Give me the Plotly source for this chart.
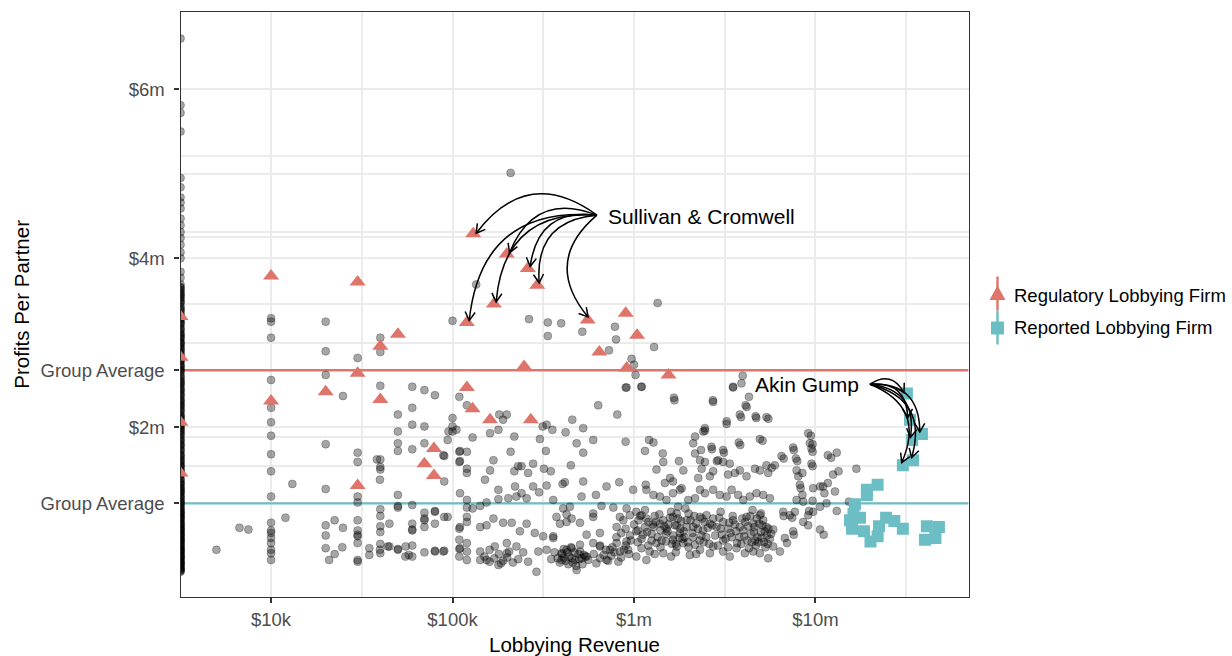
import math
import plotly.graph_objects as go

W, H = 1232, 656

# ---------------- scales / labels ----------------
x_limits = (3170, 69_700_000)          # lobbying revenue, $
y_limits = (-0.008, 6.91)              # profits per partner, $m
x_ticks = [1e4, 1e5, 1e6, 1e7]
x_tick_labels = ["$10k", "$100k", "$1m", "$10m"]
x_minor = [10**4.5, 10**5.5, 10**6.5, 10**7.5]
regulatory_avg_m = 2.675
reported_avg_m = 1.10
y_ticks = [reported_avg_m, 2, regulatory_avg_m, 4, 6]
y_tick_labels = ["Group Average", "$2m", "Group Average", "$4m", "$6m"]
y_minor = [1.545, 1.89, 3.0, 3.46, 4.25, 4.31, 5.0, 5.21]

# ---------------- data ----------------
# firms without lobbying revenue (shown at the axis floor), profits per partner $m
no_revenue_profit_m = [6.60, 5.81, 5.72, 5.50, 4.95, 4.84, 4.72, 4.66, 4.59, 4.47, 4.39, 4.31,
                       4.24, 4.16, 4.07, 4.00, 3.84, 3.77, 3.69, 3.66, 3.63, 3.61, 3.59, 3.56,
                       3.54, 3.52, 3.50, 3.47, 3.43, 3.41, 3.38, 3.35, 3.33, 3.30, 3.28, 3.26,
                       3.23, 3.21, 3.18, 3.15, 3.12, 3.10, 3.09, 3.06, 3.04, 3.01, 3.00, 2.97,
                       2.95, 2.92, 2.90, 2.86, 2.84, 2.82, 2.79, 2.78, 2.75, 2.72, 2.70, 2.67,
                       2.65, 2.62, 2.60, 2.56, 2.54, 2.53, 2.50, 2.47, 2.44, 2.42, 2.40, 2.37,
                       2.34, 2.31, 2.29, 2.26, 2.24, 2.22, 2.19, 2.16, 2.13, 2.11, 2.10, 2.07,
                       2.04, 2.01, 1.99, 1.96, 1.94, 1.91, 1.88, 1.86, 1.83, 1.80, 1.78, 1.75,
                       1.72, 1.69, 1.66, 1.64, 1.62, 1.59, 1.57, 1.55, 1.53, 1.50, 1.48, 1.45,
                       1.43, 1.39, 1.36, 1.34, 1.32, 1.29, 1.27, 1.24, 1.22, 1.19, 1.17, 1.15,
                       1.12, 1.09, 1.06, 1.04, 1.01, 0.99, 0.98, 0.95, 0.93, 0.90, 0.87, 0.84,
                       0.82, 0.81, 0.78, 0.77, 0.74, 0.71, 0.69, 0.68, 0.65, 0.64, 0.61, 0.58,
                       0.56, 0.55, 0.52, 0.50, 0.48, 0.47, 0.44, 0.42, 0.40, 0.38, 0.36, 0.33,
                       0.31, 0.30,
                       3.65, 3.57, 3.48, 3.39, 3.31, 3.24, 3.16, 3.07, 2.99, 2.93, 2.88, 2.80,
                       2.73, 2.68, 2.58, 2.51, 2.45, 2.38, 2.32, 2.27, 2.20, 2.14, 2.08, 2.02,
                       1.97, 1.92, 1.84, 1.79, 1.73, 1.67, 1.60, 1.54, 1.49, 1.44, 1.38, 1.33,
                       1.28, 1.23, 1.18, 1.13, 1.08, 1.03, 0.97, 0.94, 0.89, 0.85, 0.80, 0.75,
                       0.72, 0.66, 0.62, 0.57, 0.53, 0.49, 0.45, 0.41, 0.37, 0.34, 0.32, 0.29,
                       1.25, 1.11, 1.00, 0.92, 0.86, 0.79, 0.73, 0.67, 0.60, 0.54, 0.46, 0.39]
no_revenue_regulatory_m = [3.31, 2.83, 2.06, 1.46]

# other firms: (lobbying revenue $k, profits per partner $m)
other_firms = [
    (5.0, 0.55), (6.7, 0.81), (7.5, 0.79), (12, 0.93), (13.1, 1.33),
    (10, 3.29), (10, 3.25), (10, 3.06), (10, 2.56), (10, 2.23), (10, 2.06), (10, 1.90), (10, 1.68),
    (10, 1.48), (10, 1.18), (10, 0.87), (10, 0.78), (10, 0.75), (10, 0.69), (10, 0.63), (10, 0.55),
    (10, 0.51), (10, 0.43),
    (20, 3.25), (20, 2.90), (20, 2.62), (20, 1.80), (20, 1.27), (20, 0.84), (20, 0.72), (20, 0.57),
    (20.9, 0.43), (22.4, 0.90), (22.4, 0.50), (24.9, 2.37), (24.9, 0.81), (24.7, 0.58),
    (30, 2.82), (30, 1.70), (30, 1.59), (30, 1.18), (30, 1.11), (30, 0.90), (30, 0.78), (30, 0.73),
    (30, 0.71), (30, 0.63), (30, 0.43), (30, 0.41),
    (40, 3.06), (40, 2.89), (40, 2.49), (40, 1.62), (40, 1.53), (40, 1.50), (40, 1.03), (40, 0.95),
    (40, 0.83), (40, 0.76), (40, 0.62), (40, 0.51), (38.3, 1.62), (34.8, 0.57), (34.8, 0.49),
    (44.9, 0.86), (44.9, 0.59), (39.8, 1.38), (39.8, 0.55), (44, 0.59),
    (50, 2.15), (50, 1.95), (50, 1.81), (50, 1.72), (50, 1.20), (50, 1.05), (50, 0.56), (50, 1.07), (50, 0.55),
    (60, 2.48), (60, 2.23), (60, 2.03), (60, 1.74), (60, 1.08), (60, 0.86), (60, 0.79), (60, 0.60),
    (60, 0.47), (55.2, 0.59), (57.4, 0.49), (55, 0.47), (60, 0.78),
    (70, 2.44), (70, 2.01), (70, 0.99), (70, 0.90), (70, 0.82), (70, 0.52), (70, 1.81), (70, 0.92),
    (80, 2.38), (80, 1.01), (80, 0.86), (80, 0.54), (80, 1.00), (80, 0.53),
    (90, 1.66), (90, 1.36), (90, 0.94), (90, 0.54), (94, 1.85), (94, 0.94), (89, 1.67), (89, 0.53),
    (100, 3.26), (100, 2.11), (100, 2.01), (100, 1.95), (95, 1.95), (105, 1.97),
    (109, 2.36), (109, 1.71), (109, 1.59), (109, 0.80), (109, 0.67), (109, 0.56), (109, 0.47),
    (110, 1.72), (110, 1.60), (110, 1.22), (110, 0.82), (110, 0.57),
    (120, 2.26), (120, 1.71), (120, 1.51), (120, 1.46), (120, 1.14), (120, 1.05), (120, 0.94),
    (120, 0.88), (120, 0.63), (120, 0.53), (120, 0.43),
    (129, 1.88), (129, 1.04), (142, 1.07), (142, 0.82), (142, 0.53), (142, 0.43), (151, 1.38),
    (154, 1.11), (154, 0.84), (154, 0.43), (161, 1.93), (161, 1.49), (168, 1.61), (168, 0.92),
    (171, 0.59), (179, 1.97), (179, 1.26), (179, 1.15), (179, 0.37), (181, 2.15), (190, 2.09),
    (190, 0.87), (199, 2.15), (199, 0.63), (199, 0.51), (203, 1.16), (209, 1.71), (212, 0.87),
    (219, 1.89), (219, 1.48), (221, 1.30), (225, 1.18), (225, 0.59), (230, 1.54), (235, 0.77),
    (240, 1.54), (240, 1.22), (256, 1.16), (256, 0.86), (261, 1.46), (261, 0.41), (278, 1.57),
    (278, 1.30), (284, 0.75), (290, 0.29), (297, 0.53), (300, 1.23), (303, 1.86), (314, 2.01),
    (316, 0.71), (319, 1.51), (327, 1.72), (330, 2.03), (330, 1.31), (330, 0.55), (348, 1.48),
    (355, 1.97), (359, 1.14), (359, 0.71), (359, 0.69), (374, 0.94), (391, 0.86), (399, 0.51),
    (399, 0.43), (404, 1.33), (407, 1.04), (416, 1.35), (420, 1.94), (425, 0.97), (425, 0.88),
    (425, 0.55), (443, 1.06), (449, 1.55), (453, 0.92), (453, 0.57), (457, 2.09), (483, 1.81),
    (483, 0.31), (504, 0.87), (504, 0.61), (514, 1.18), (525, 1.99), (525, 1.70), (525, 1.36),
    (548, 0.73), (548, 0.47), (596, 1.85), (596, 0.98), (596, 0.94), (596, 0.63), (617, 1.20),
    (635, 2.26), (649, 0.75), (649, 0.59), (662, 1.07), (706, 1.30), (706, 0.43), (737, 0.55),
    (769, 1.05), (802, 0.82), (802, 0.63), (809, 2.15), (829, 1.35), (836, 0.94), (836, 0.53),
    (873, 0.90), (899, 1.83), (910, 2.47), (910, 1.04), (910, 0.65), (929, 0.55), (949, 0.96),
    (990, 1.26), (1030, 1.00), (1030, 0.77), (1030, 0.47), (1080, 0.95), (1100, 2.48), (1100, 0.96),
    (1150, 1.72), (1160, 1.32), (1170, 1.26), (1170, 0.92), (1170, 0.43), (1210, 1.85), (1220, 0.53),
    (1280, 1.82), (1280, 1.20), (1280, 0.82), (1330, 1.50), (1330, 0.63), (1390, 1.18), (1390, 0.86),
    (1440, 1.69), (1450, 1.59), (1450, 0.51), (1480, 1.34), (1510, 1.14), (1510, 0.80), (1580, 1.40),
    (1640, 1.36), (1640, 1.22), (1640, 0.94), (1640, 0.67), (1670, 2.32), (1720, 0.84), (1720, 0.59),
    (1770, 1.60), (1790, 1.26), (1790, 0.75), (1830, 1.28), (1870, 1.49), (1870, 0.63), (1950, 0.90),
    (1990, 1.14), (2030, 0.49), (2120, 1.81), (2120, 0.82), (2170, 1.89), (2170, 1.69), (2170, 1.16),
    (2170, 0.61), (2260, 1.40), (2310, 1.61), (2310, 1.26), (2310, 0.94), (2310, 0.55), (2340, 1.73),
    (2360, 1.51), (2410, 1.95), (2460, 1.99), (2460, 1.59), (2460, 1.22), (2510, 0.96), (2620, 1.42),
    (2620, 0.86), (2620, 0.51), (2670, 1.77), (2730, 2.30), (2730, 1.48), (2730, 1.26), (2730, 0.92),
    (2730, 0.59), (2850, 0.82), (2910, 1.61), (2970, 1.20), (3100, 1.73), (3100, 1.59), (3100, 0.88),
    (3100, 0.53), (3240, 2.07), (3240, 1.18), (3300, 1.44), (3300, 0.80), (3370, 1.57), (3370, 0.47),
    (3450, 1.26), (3520, 2.48), (3520, 0.90), (3600, 1.46), (3670, 0.57), (3750, 1.20), (3780, 1.82),
    (3830, 2.15), (3830, 1.49), (3830, 0.82), (3910, 2.52), (4000, 1.14), (4080, 0.51), (4120, 2.26),
    (4170, 1.42), (4170, 0.94), (4350, 1.18), (4540, 0.86), (4540, 0.53), (4640, 1.51), (4680, 2.13),
    (4730, 1.22), (4940, 1.86), (4940, 1.49), (4940, 0.96), (4940, 0.51), (5150, 1.20), (5150, 0.90),
    (5370, 2.12), (5370, 1.55), (5370, 0.82), (5490, 1.46), (5490, 0.45), (5610, 1.16), (5850, 0.79),
    (5850, 0.59), (5970, 1.55), (6370, 0.53), (6500, 1.66), (6640, 1.00), (6780, 0.69), (7220, 0.96),
    (7530, 1.76), (7530, 0.77), (7700, 1.00), (7800, 1.63), (7870, 1.49), (7870, 1.14), (8040, 1.42),
    (8210, 1.32), (8560, 1.12), (8560, 0.88), (9120, 1.93), (9120, 0.96), (9120, 0.84), (9310, 1.81),
    (9510, 1.75), (9510, 1.57), (9710, 1.28), (9710, 1.00), (10600, 1.30), (10600, 1.06), (10600, 0.79),
    (11500, 1.10), (11700, 1.67), (11700, 1.34),
    (209, 5.01), (135, 3.69), (264, 3.28), (335, 3.24), (397, 3.23), (335, 3.08), (519, 3.13),
    (785, 3.19), (796, 3.04), (728, 2.91), (1350, 3.47), (1290, 2.95), (970, 2.81), (1000, 2.74),
    (1020, 2.62), (900, 2.47), (1100, 2.48), (3510, 2.47), (3970, 2.61), (4300, 2.36), (1660, 2.35),
    (2720, 2.32), (4180, 2.24), (3890, 2.12), (4720, 2.11), (5500, 2.10), (3240, 2.04), (9440, 1.90),
    (5110, 1.84), (3850, 1.79), (9640, 1.80), (9640, 1.71), (7600, 1.73), (7940, 1.60), (6680, 1.63),
    (12200, 1.64), (13100, 1.70), (16800, 1.51), (13400, 1.48), (12500, 1.44), (9640, 1.54),
    (8470, 1.46), (8290, 1.28), (8470, 1.20), (9640, 1.13), (9220, 1.01), (11000, 1.30), (11200, 1.22),
    (12800, 1.24), (15300, 1.12), (11100, 0.73), (13100, 1.01), (6970, 0.63), (7600, 0.73),
    (6680, 0.95), (7440, 0.93), (2460, 1.96), (3130, 1.70), (2690, 1.74), (2860, 1.60), (5740, 1.52),
    # dense clusters
    (380, 0.45), (400, 0.50), (420, 0.42), (440, 0.47), (460, 0.40), (470, 0.52), (500, 0.44),
    (520, 0.38), (530, 0.49), (410, 0.56), (390, 0.40), (450, 0.58), (480, 0.36), (505, 0.53),
    (150, 0.47), (160, 0.41), (170, 0.45), (180, 0.50), (190, 0.42), (200, 0.46), (215, 0.40),
    (230, 0.44), (245, 0.52), (160, 0.55), (185, 0.39), (205, 0.53),
    (800, 0.70), (850, 0.75), (900, 0.80), (950, 0.72), (1000, 0.85), (1050, 0.78), (1100, 0.68),
    (1150, 0.82), (1200, 0.88), (1250, 0.74), (1300, 0.95), (1350, 0.70), (1400, 0.78), (1450, 0.90),
    (1500, 0.65), (1550, 0.85), (1600, 1.00), (1650, 0.72), (1700, 0.62), (1750, 0.92), (1800, 0.80),
    (1900, 0.70), (2000, 0.98), (2100, 0.75), (2200, 0.86), (2300, 0.66), (2400, 0.78), (2500, 0.70),
    (1200, 0.60), (1400, 0.58), (1700, 0.52), (2000, 0.58), (900, 0.60), (1100, 0.57), (1300, 0.50),
    (1600, 0.47), (2200, 0.50), (2600, 0.62), (1250, 0.66), (1500, 0.74), (1850, 0.68), (2350, 0.72),
    (1050, 0.64), (1950, 0.82), (2150, 0.95), (2450, 0.88), (1150, 1.02), (1750, 1.06),
    (2800, 0.72), (3000, 0.80), (3200, 0.68), (3400, 0.75), (3600, 0.85), (3800, 0.70), (4000, 0.78),
    (4200, 0.66), (4400, 0.74), (4600, 0.82), (4800, 0.70), (5000, 0.76), (5200, 0.64), (5400, 0.72),
    (5600, 0.68), (3000, 1.00), (3500, 0.95), (4500, 1.02), (5000, 0.98), (2900, 0.60), (3300, 0.58),
    (3900, 0.62), (4300, 0.57), (4700, 0.60), (5300, 0.58), (3100, 0.66), (3700, 0.63), (4100, 0.88),
    (4900, 0.86), (5500, 0.80), (2700, 0.84), (3450, 0.70), (4650, 0.66),
    (600, 0.50), (650, 0.45), (700, 0.55), (750, 0.48), (650, 0.60), (720, 0.42), (780, 0.52), (850, 0.46),
    (560, 0.43), (620, 0.39), (680, 0.49), (760, 0.58), (820, 0.41), (880, 0.55), (940, 0.50),
    (1320, 0.88), (1380, 0.97), (1420, 0.66), (1530, 0.77), (1580, 0.93), (1620, 0.62), (1680, 0.84),
    (1720, 0.98), (1780, 0.69), (1820, 0.89), (1880, 0.77), (1920, 1.04), (1980, 0.64), (2050, 0.90),
    (2120, 0.70), (2250, 0.80), (2380, 0.92), (2420, 0.64), (2550, 0.81), (1180, 0.76), (1060, 0.90),
    (960, 0.66), (1120, 0.73), (1270, 0.85), (1470, 0.83),
    (3950, 0.92), (4050, 0.71), (4250, 0.83), (4380, 0.95), (4450, 0.64), (4580, 0.76), (4750, 0.92),
    (4850, 0.64), (5050, 0.69), (5100, 0.84), (5250, 0.77), (3650, 0.77), (3350, 0.87), (3050, 0.73),
    (2950, 0.93), (5450, 0.62), (5700, 0.74),
    (430, 0.52), (455, 0.45), (475, 0.43), (495, 0.50), (515, 0.45), (540, 0.47), (435, 0.38),
    (410, 0.46), (365, 0.52), (350, 0.44),
]

# regulatory lobbying firms: (revenue $k, profits per partner $m)
regulatory_firms = [
    (10, 3.79), (10, 2.31), (20, 2.42), (30, 3.72), (30, 2.64), (30, 1.31), (40, 2.96), (40, 2.33),
    (50, 3.10), (79, 1.75), (70, 1.57), (79, 1.43), (120, 2.47), (129, 2.22), (161, 2.09), (270, 2.09),
    (248, 2.72), (912, 2.70), (1550, 2.62), (900, 3.35), (1040, 3.09), (644, 2.89),
]
sullivan_cromwell = [(130, 4.29), (199, 4.05), (260, 3.88), (293, 3.68), (169, 3.46), (120, 3.24), (556, 3.27)]

# reported lobbying firms: (revenue $m, profits per partner $m)
akin_gump = [(31.9, 2.40), (38.6, 1.92), (33.2, 2.09), (34.1, 1.85), (34.5, 1.61), (30.3, 1.55)]
reported_firms = [
    (22.0, 1.32), (19.2, 1.26), (19.2, 1.20), (16.2, 0.97), (17.6, 0.93), (15.9, 0.80), (18.5, 0.77),
    (20.1, 0.65), (22.4, 0.83), (24.5, 0.93), (27.2, 0.89), (30.3, 0.80), (22.0, 0.71), (41.1, 0.83),
    (47.9, 0.82), (40.1, 0.67), (45.8, 0.69), (16.5, 1.09), (15.5, 0.90),
]

# label anchors (revenue $k, profit $m)
sc_label = (625, 4.51)
ag_label = (19950, 2.51)

RED = "#DF746A"
TEAL = "#6BBEC4"
GRID = "#EBEBEB"
FONT = "Liberation Sans, Arial, Helvetica, sans-serif"

# plot area in pixels
PL, PR, PT, PB = 180.5, 968.5, 12.3, 597.0
lx0, lx1 = math.log10(x_limits[0]), math.log10(x_limits[1])


def px_x(rev):
    return PL + (math.log10(rev) - lx0) / (lx1 - lx0) * (PR - PL)


def px_y(v):
    return PT + (y_limits[1] - v) / (y_limits[1] - y_limits[0]) * (PB - PT)


def pp(x, y):
    return x / W, 1 - y / H


fig = go.Figure()

# group averages as line traces (under the points)
for val, col in [(regulatory_avg_m, RED), (reported_avg_m, TEAL)]:
    fig.add_trace(go.Scatter(x=[x_limits[0], x_limits[1]], y=[val, val], mode="lines",
                             line=dict(color=col, width=2.3), hoverinfo="skip"))

gray_marker = dict(size=8, color="rgba(0,0,0,0.35)", line=dict(color="rgba(0,0,0,0.25)", width=1))
fig.add_trace(go.Scatter(x=[x_limits[0]] * len(no_revenue_profit_m), y=no_revenue_profit_m,
                         mode="markers", marker=gray_marker, hoverinfo="skip"))
fig.add_trace(go.Scatter(x=[r * 1e3 for r, _ in other_firms], y=[p for _, p in other_firms],
                         mode="markers", marker=gray_marker, hoverinfo="skip"))

reg_all = regulatory_firms + sullivan_cromwell
fig.add_trace(go.Scatter(
    x=[r * 1e3 for r, _ in reg_all] + [x_limits[0]] * len(no_revenue_regulatory_m),
    y=[p for _, p in reg_all] + no_revenue_regulatory_m,
    mode="markers", marker=dict(symbol="triangle-up", size=14, color=RED), hoverinfo="skip"))

rep_all = reported_firms + akin_gump
fig.add_trace(go.Scatter(x=[r * 1e6 for r, _ in rep_all], y=[p for _, p in rep_all],
                         mode="markers", marker=dict(symbol="square", size=12, color=TEAL),
                         hoverinfo="skip"))

shapes = []


def curved_arrow(p0, p1, k, side):
    x0, y0 = p0
    x1, y1 = p1
    dx, dy = x1 - x0, y1 - y0
    L = math.hypot(dx, dy)
    x1 -= 3 * dx / L
    y1 -= 3 * dy / L
    cx = (x0 + x1) / 2 + side * k * (-dy)
    cy = (y0 + y1) / 2 + side * k * dx
    a, b = pp(x0, y0)
    c, d = pp(cx, cy)
    e, f = pp(x1, y1)
    shapes.append(dict(type="path", xref="paper", yref="paper",
                       path=f"M {a:.5f},{b:.5f} Q {c:.5f},{d:.5f} {e:.5f},{f:.5f}",
                       line=dict(color="black", width=1.5)))
    tx, ty = x1 - cx, y1 - cy
    tl = math.hypot(tx, ty)
    ux, uy = -tx / tl, -ty / tl
    pts = []
    for ang in (math.radians(30), -math.radians(30)):
        rx = ux * math.cos(ang) - uy * math.sin(ang)
        ry = ux * math.sin(ang) + uy * math.cos(ang)
        pts.append(pp(x1 + 10 * rx, y1 + 10 * ry))
    shapes.append(dict(type="path", xref="paper", yref="paper",
                       path=f"M {pts[0][0]:.5f},{pts[0][1]:.5f} L {e:.5f},{f:.5f} L {pts[1][0]:.5f},{pts[1][1]:.5f}",
                       line=dict(color="black", width=1.5)))


sc0 = (px_x(sc_label[0] * 1e3), px_y(sc_label[1]))
for r, p in sullivan_cromwell:
    curved_arrow(sc0, (px_x(r * 1e3), px_y(p)), 0.48, 1)
ag0 = (px_x(ag_label[0] * 1e3), px_y(ag_label[1]))
for r, p in akin_gump:
    curved_arrow(ag0, (px_x(r * 1e6), px_y(p)), 0.5, -1)

# legend (drawn manually)
lg_x = 997.5
for (ya, yb), col in [((276.5, 310.5), RED), ((310.5, 344.5), TEAL)]:
    a, b = pp(lg_x, ya)
    c, d = pp(lg_x, yb)
    shapes.append(dict(type="line", xref="paper", yref="paper", x0=a, x1=c, y0=b, y1=d,
                       line=dict(color=col, width=2.4)))
t1, t2, t3 = pp(lg_x, 285.5), pp(lg_x - 8, 300), pp(lg_x + 8, 300)
shapes.append(dict(type="path", xref="paper", yref="paper",
                   path=f"M {t1[0]:.5f},{t1[1]:.5f} L {t2[0]:.5f},{t2[1]:.5f} L {t3[0]:.5f},{t3[1]:.5f} Z",
                   fillcolor=RED, line=dict(width=0)))
s1, s2 = pp(lg_x - 6.5, 321.5), pp(lg_x + 6.5, 334.5)
shapes.append(dict(type="rect", xref="paper", yref="paper", x0=s1[0], x1=s2[0], y0=s1[1], y1=s2[1],
                   fillcolor=TEAL, line=dict(width=0)))

annotations = []


def text(x, y, s, size, color="black", xanchor="left", angle=0):
    a, b = pp(x, y)
    annotations.append(dict(x=a, y=b, xref="paper", yref="paper", text=s, showarrow=False,
                            xanchor=xanchor, yanchor="middle", textangle=angle,
                            font=dict(family=FONT, size=size, color=color)))


text(sc0[0] + 9, sc0[1] + 1, "Sullivan &amp; Cromwell", 21)
text(ag0[0] - 9, ag0[1], "Akin Gump", 21, xanchor="right")
text(1012, 295, "Regulatory Lobbying Firm", 18.5)
text(1012, 327.5, "Reported Lobbying Firm", 18.5)
text((PL + PR) / 2, 644, "Lobbying Revenue", 20.5, xanchor="center")
text(22, (PT + PB) / 2, "Profits Per Partner", 20.5, xanchor="center", angle=-90)

axis_common = dict(
    showline=True, mirror=True, linecolor="#333333", linewidth=1.3,
    ticks="outside", ticklen=5, tickwidth=1.5, tickcolor="#333333",
    tickfont=dict(family=FONT, size=18.5, color="#4D4D4D"),
    showgrid=True, gridcolor=GRID, gridwidth=2, zeroline=False, fixedrange=True,
)

fig.update_layout(
    width=W, height=H,
    margin=dict(l=0, r=0, t=0, b=0),
    paper_bgcolor="white", plot_bgcolor="white",
    showlegend=False,
    xaxis=dict(type="log", range=[lx0, lx1], domain=[PL / W, PR / W],
               tickmode="array", tickvals=x_ticks, ticktext=x_tick_labels,
               minor=dict(tickmode="array", tickvals=x_minor, showgrid=True,
                          gridcolor=GRID, gridwidth=1.8, ticks=""),
               ticklabelstandoff=1, **axis_common),
    yaxis=dict(range=list(y_limits), domain=[1 - PB / H, 1 - PT / H],
               tickmode="array", tickvals=y_ticks, ticktext=y_tick_labels,
               minor=dict(tickmode="array", tickvals=y_minor, showgrid=True,
                          gridcolor=GRID, gridwidth=1.8, ticks=""),
               ticklabelstandoff=6, **axis_common),
    shapes=shapes,
    annotations=annotations,
)

fig.write_html("out.html", config={"displayModeBar": False},
               post_script="document.body.style.margin='0';document.body.style.overflow='hidden';")
